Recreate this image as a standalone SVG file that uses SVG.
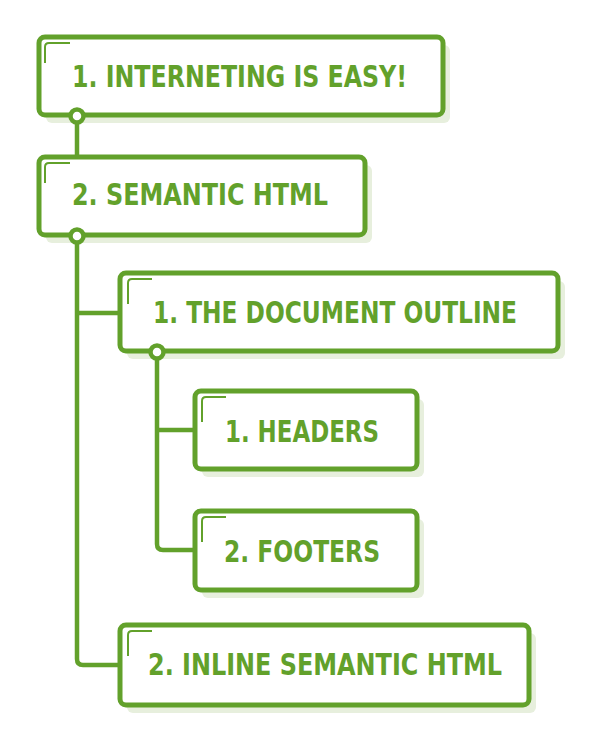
<svg xmlns="http://www.w3.org/2000/svg" width="590" height="744" viewBox="0 0 590 744">
<style>
.shadow{fill:#e7efdd}
.box{fill:#fff;stroke:#62a12b;stroke-width:5}
.mark{fill:none;stroke:#62a12b;stroke-width:2}
.lbl{font-family:"DejaVu Sans Condensed","DejaVu Sans",sans-serif;font-stretch:condensed;font-weight:bold;font-size:31px;fill:#62a12b}
.line{fill:none;stroke:#62a12b;stroke-width:4.5;stroke-linejoin:round}
.dot{fill:#fff;stroke:#62a12b;stroke-width:4.5}
</style>
<rect width="590" height="744" fill="#fff"/>
<g id="connectors">
<path class="line" d="M77 116 V157"/>
<path class="line" d="M77 236 V659 Q77 665 83 665 H120"/>
<path class="line" d="M77 313 H120"/>
<path class="line" d="M157 352 V544 Q157 550 163 550 H195"/>
<path class="line" d="M157 430 H195"/>
</g>
<g id="n1">
<rect class="shadow" x="46" y="45" width="404" height="78" rx="6"/>
<rect class="box" x="39" y="37" width="404" height="78" rx="6"/>
<path class="mark" d="M45 63 V47 Q45 43 49 43 H70"/>
<text class="lbl" x="72" y="87" textLength="335" lengthAdjust="spacingAndGlyphs">1. INTERNETING IS EASY!</text>
</g>
<g id="n2">
<rect class="shadow" x="46" y="165" width="326" height="78" rx="6"/>
<rect class="box" x="39" y="157" width="326" height="78" rx="6"/>
<path class="mark" d="M45 183 V167 Q45 163 49 163 H70"/>
<text class="lbl" x="72" y="205" textLength="256" lengthAdjust="spacingAndGlyphs">2. SEMANTIC HTML</text>
</g>
<g id="n3">
<rect class="shadow" x="127" y="281" width="438" height="78" rx="6"/>
<rect class="box" x="120" y="273" width="438" height="78" rx="6"/>
<path class="mark" d="M128 304 V283 Q128 279 132 279 H152"/>
<text class="lbl" x="153" y="323" textLength="364" lengthAdjust="spacingAndGlyphs">1. THE DOCUMENT OUTLINE</text>
</g>
<g id="n4">
<rect class="shadow" x="202" y="399" width="222" height="78" rx="6"/>
<rect class="box" x="195" y="391" width="222" height="78" rx="6"/>
<path class="mark" d="M202 422 V401 Q202 397 206 397 H226"/>
<text class="lbl" x="225" y="442" textLength="154" lengthAdjust="spacingAndGlyphs">1. HEADERS</text>
</g>
<g id="n5">
<rect class="shadow" x="202" y="519" width="222" height="79" rx="6"/>
<rect class="box" x="195" y="511" width="222" height="79" rx="6"/>
<path class="mark" d="M202 542 V521 Q202 517 206 517 H226"/>
<text class="lbl" x="224" y="562" textLength="156" lengthAdjust="spacingAndGlyphs">2. FOOTERS</text>
</g>
<g id="n6">
<rect class="shadow" x="127" y="633" width="409" height="80" rx="6"/>
<rect class="box" x="120" y="625" width="409" height="80" rx="6"/>
<path class="mark" d="M128 656 V635 Q128 631 132 631 H152"/>
<text class="lbl" x="148" y="675" textLength="354" lengthAdjust="spacingAndGlyphs">2. INLINE SEMANTIC HTML</text>
</g>
<g id="dots">
<circle class="dot" cx="77" cy="116" r="6.5"/>
<circle class="dot" cx="77" cy="236" r="6.5"/>
<circle class="dot" cx="157" cy="352" r="6.5"/>
</g>
</svg>
